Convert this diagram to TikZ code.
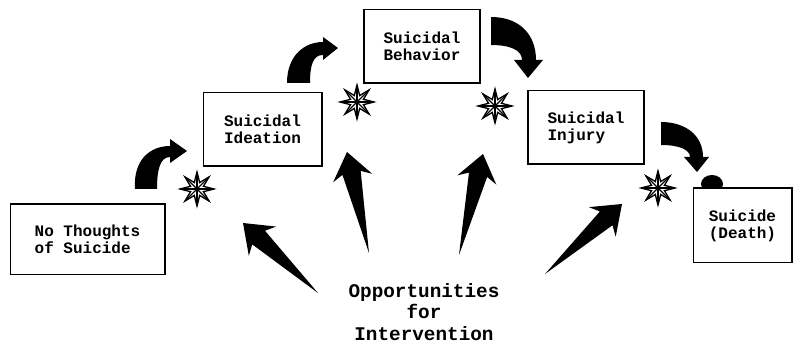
\documentclass[tikz,border=0pt]{standalone}
\usepackage{fontspec}
\setmonofont{Liberation Mono}
\usetikzlibrary{calc}

\tikzset{
	stage/.style={draw, line width=1pt, fill=white, align=left, inner sep=0pt,
		font=\ttfamily\bfseries\fontsize{12}{12.75}\selectfont},
	burst/.pic={
		\draw[line width=1pt, fill=white] (90:17) \foreach \k in {0,...,7}{ -- (112.5+45*\k:7) -- (135+45*\k:17)} -- cycle;
		\foreach \k in {0,...,7} \draw[line width=1pt] (0,0) -- (90+45*\k:17);
	}
}

% tapered straight arrow from #1 (tail) to #2 (tip)
\newcommand{\taparrow}[2]{%
	\fill (#1) -- ($(#2)!16pt!(#1)!7pt!90:(#1)$) -- ($(#2)!20pt!(#1)!15pt!90:(#1)$) -- (#2)
		-- ($(#2)!20pt!(#1)!15pt!-90:(#1)$) -- ($(#2)!16pt!(#1)!7pt!-90:(#1)$) -- cycle;}

\begin{document}
\begin{tikzpicture}[x=0.75pt,y=-0.75pt]
	\useasboundingbox (0,0) rectangle (794,345);

	% blob on top of the last box
	\fill (712,184) ellipse [x radius=11, y radius=9];

	\node[stage, minimum width=116pt, minimum height=53pt] (none) at (87.5,239.5) {No Thoughts\\of Suicide};
	\node[stage, minimum width=89pt, minimum height=55pt] (ideation) at (262.5,129.5) {Suicidal\\Ideation};
	\node[stage, minimum width=87pt, minimum height=55pt] (behavior) at (422,46.5) {Suicidal\\Behavior};
	\node[stage, minimum width=87pt, minimum height=55pt] (injury) at (586,127.5) {Suicidal\\Injury};
	\node[stage, minimum width=74pt, minimum height=56pt] (death) at (742.5,225.5) {Suicide\\(Death)};

	\node[font=\ttfamily\bfseries\fontsize{14.5}{16.2}\selectfont, align=center] (opp) at (424,312) {Opportunities\\for\\Intervention};

	% curved arrows between the stages
	\fill (135,189) .. controls (133,160) and (150,146) .. (170,146) -- (170,139) -- (187,151)
		-- (170,163) -- (170,157) .. controls (160,157) and (157,170) .. (157,189) -- cycle;
	\fill (287,83) .. controls (287,55) and (305,42) .. (323,42) -- (323,37) -- (338,48)
		-- (323,60) -- (323,55) .. controls (313,55) and (310,65) .. (310,83) -- cycle;
	\fill (491,17) .. controls (520,17) and (536,35) .. (536,60) -- (543,60) -- (528,78)
		-- (514,60) -- (522,60) .. controls (522,50) and (510,45) .. (491,45) -- cycle;
	\fill (661,122) .. controls (685,122) and (703,135) .. (703,157) -- (709,157) -- (697,172)
		-- (684,157) -- (690,157) .. controls (690,150) and (680,145) .. (661,145) -- cycle;

	% stars
	\pic at (197,189) {burst};
	\pic at (357,102) {burst};
	\pic at (495,106) {burst};
	\pic at (658,188) {burst};

	% arrows from the label
	\coordinate (ta) at (318,293); \coordinate (pa) at (243,223);
	\coordinate (tb) at (369,253); \coordinate (pb) at (347,152);
	\coordinate (tc) at (459,255); \coordinate (pc) at (483,154);
	\coordinate (td) at (545,274); \coordinate (pd) at (622,204);
	\taparrow{ta}{pa}
	\taparrow{tb}{pb}
	\taparrow{tc}{pc}
	\taparrow{td}{pd}
\end{tikzpicture}
\end{document}
